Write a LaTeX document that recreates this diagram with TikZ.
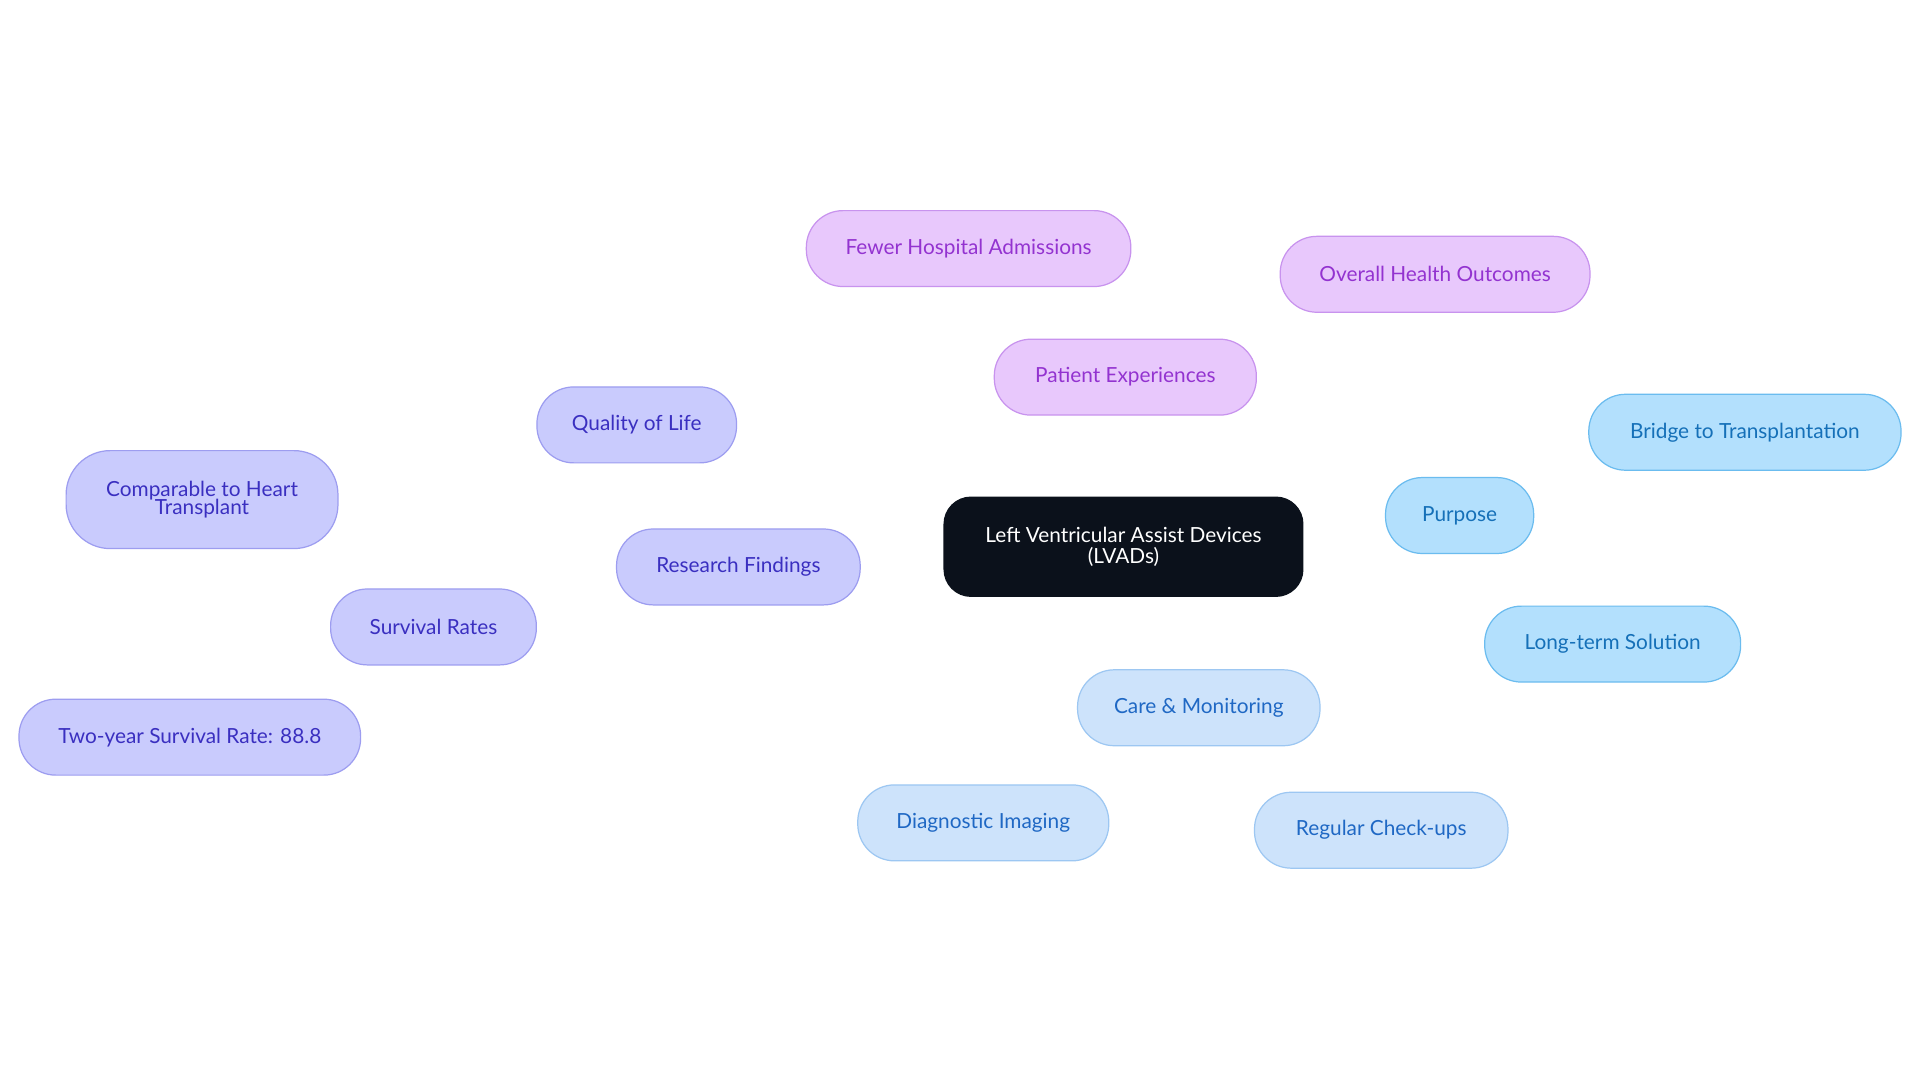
\documentclass[tikz,border=0pt]{standalone}
\usepackage{fontspec}
\setmainfont{Lato}
\usetikzlibrary{backgrounds}
\definecolor{pF}{HTML}{E8C8FC}\definecolor{pD}{HTML}{C893EE}\definecolor{pT}{HTML}{9333D0}
\definecolor{bF}{HTML}{B3E0FD}\definecolor{bD}{HTML}{6BBCEF}\definecolor{bT}{HTML}{1570B8}
\definecolor{cF}{HTML}{CDE3FB}\definecolor{cD}{HTML}{9DC7F2}\definecolor{cT}{HTML}{1F68C4}
\definecolor{rF}{HTML}{C9CBFD}\definecolor{rD}{HTML}{9D9DF0}\definecolor{rT}{HTML}{3A2FC0}
\definecolor{ink}{HTML}{0B111B}
\tikzset{
 box/.style={rounded corners=15pt,draw,line width=0.5pt,minimum height=31pt,inner sep=0pt,align=center,font=\fontsize{8.5}{9.5}\selectfont},
 pbox/.style={box,fill=pF,draw=pD,text=pT},
 bbox/.style={box,fill=bF,draw=bD,text=bT},
 cbox/.style={box,fill=cF,draw=cD,text=cT},
 rbox/.style={box,fill=rF,draw=rD,text=rT},
 pe/.style={draw=pD,line width=1pt},
 be/.style={draw=bD,line width=1pt},
 ce/.style={draw=cD,line width=1pt},
 re/.style={draw=rD,line width=1pt},
}
\begin{document}
\begin{tikzpicture}[x=0.5pt,y=-0.5pt]
\useasboundingbox[fill=white] (0,0) rectangle (1568,884);
\node[box,fill=ink,draw=ink,text=white,minimum width=146.5pt,minimum height=40.5pt,rounded corners=11pt] (c) at (917.5,446.5) {Left Ventricular Assist Devices\\[-1pt](LVADs)};
\node[pbox,minimum width=107pt] (pe) at (919,308) {Patient Experiences};
\node[pbox,minimum width=132.5pt] (fh) at (791,203) {Fewer Hospital Admissions};
\node[pbox,minimum width=126.5pt] (oh) at (1172,224) {Overall Health Outcomes};
\node[bbox,minimum width=60.5pt] (pu) at (1192,421) {Purpose};
\node[bbox,minimum width=127.5pt] (bt) at (1425,353) {Bridge to Transplantation};
\node[bbox,minimum width=104.5pt] (lt) at (1317,526) {Long-term Solution};
\node[cbox,minimum width=99pt] (cm) at (979,578) {Care \& Monitoring};
\node[cbox,minimum width=102.5pt] (di) at (803,672) {Diagnostic Imaging};
\node[cbox,minimum width=103.5pt] (rc) at (1128,678) {Regular Check-ups};
\node[rbox,minimum width=99.5pt] (rf) at (603,463) {Research Findings};
\node[rbox,minimum width=81.5pt] (ql) at (520,347) {Quality of Life};
\node[rbox,minimum width=84pt] (sr) at (354,512) {Survival Rates};
\node[rbox,minimum width=111pt,minimum height=40pt,rounded corners=18pt] (ch) at (165,408) {Comparable to Heart\\[-2pt]Transplant};
\node[rbox,minimum width=139.5pt] (ts) at (155,602) {Two-year Survival Rate: 88.8};
\begin{scope}[on background layer]
\draw[pe] (c) -- (pe); \draw[pe] (pe) -- (fh); \draw[pe] (pe) -- (oh);
\draw[be] (c) -- (pu); \draw[be] (pu) -- (bt); \draw[be] (pu) -- (lt);
\draw[ce] (c) -- (cm); \draw[ce] (cm) -- (di); \draw[ce] (cm) -- (rc);
\draw[re] (c) -- (rf); \draw[re] (rf) -- (ql); \draw[re] (rf) -- (sr);
\draw[re] (sr) -- (ch); \draw[re] (sr) -- (ts);
\end{scope}
\end{tikzpicture}
\end{document}
